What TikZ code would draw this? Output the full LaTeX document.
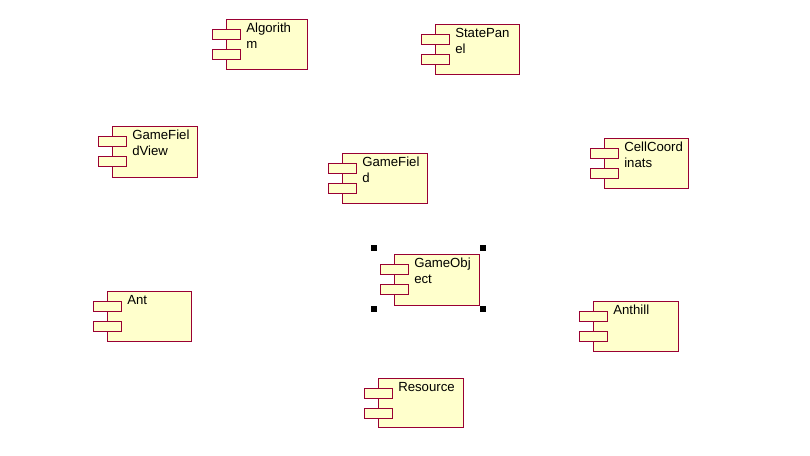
\documentclass[tikz,border=0pt]{standalone}
\usepackage{fontspec}
\setmainfont{Liberation Sans}
\definecolor{compborder}{RGB}{153,0,51}
\definecolor{compfill}{RGB}{255,255,204}
\tikzset{
  compbox/.style={draw=compborder, fill=compfill, line width=0.75pt, inner sep=0pt, anchor=north west},
  compport/.style={draw=compborder, fill=compfill, line width=0.75pt},
  comptext/.style={anchor=north west, inner sep=0pt, align=left, font=\fontsize{9.9pt}{12pt}\selectfont, text=black},
  handle/.style={fill=black}
}
\newcommand\umlcomp[6]{%
  \node[compbox, minimum width={(#4-#2)*0.75pt}, minimum height={(#5-#3)*0.75pt}] (#1) at (#2,#3) {};
  \draw[compport] ({#2-14},{#3+10}) rectangle ({#2+14},{#3+20});
  \draw[compport] ({#2-14},{#3+30}) rectangle ({#2+14},{#3+40});
  \node[comptext] (#1-label) at ({#2+20},{#3+4}) {#6};
}
\begin{document}
\begin{tikzpicture}[x=0.75pt,y=-0.75pt]
\useasboundingbox[fill=white] (0,0) rectangle (810,455);
\umlcomp{algorithm}{226}{19}{307}{69}{Algorith\\m}
\umlcomp{statepanel}{435}{24}{519}{74}{StatePan\\el}
\umlcomp{gamefieldview}{112}{126}{197}{177}{GameFiel\\dView}
\umlcomp{gamefield}{342}{153}{427}{203}{GameFiel\\d}
\umlcomp{cellcoord}{604}{138}{688}{188}{CellCoord\\inats}
\umlcomp{gameobject}{394}{254}{479}{305}{GameObj\\ect}
\umlcomp{ant}{107}{291}{191}{341}{Ant}
\umlcomp{anthill}{593}{301}{678}{351}{Anthill}
\umlcomp{resource}{378}{378}{463}{427}{Resource}
\fill[handle] (370.5,244.5) rectangle (376.5,250.5);
\fill[handle] (479.5,244.5) rectangle (485.5,250.5);
\fill[handle] (370.5,305.5) rectangle (376.5,311.5);
\fill[handle] (479.5,305.5) rectangle (485.5,311.5);
\end{tikzpicture}
\end{document}
